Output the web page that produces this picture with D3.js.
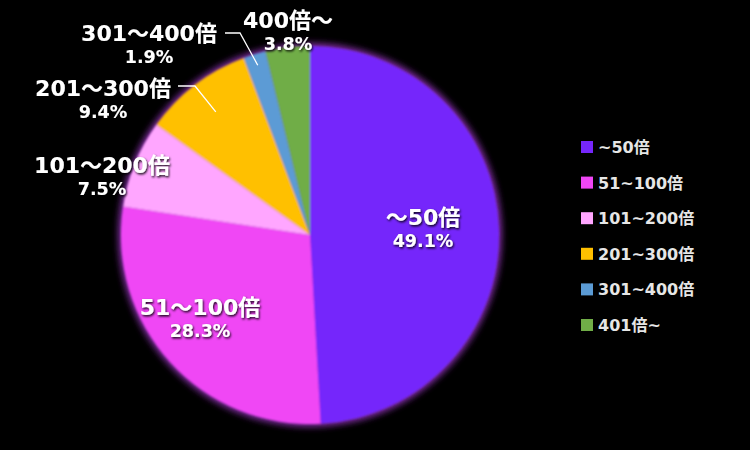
<!DOCTYPE html>
<html><head><meta charset="utf-8">
<script src="https://cdn.jsdelivr.net/npm/d3@7"></script>
<style>html,body{margin:0;padding:0;background:#000;}svg{display:block;}</style>
</head><body>
<svg id="c" width="750" height="450"></svg>
<script>
const categories = ["~50倍","51~100倍","101~200倍","201~300倍","301~400倍","401倍~"];
const labelNames = ["～50倍","51～100倍","101～200倍","201～300倍","301～400倍","400倍～"];
const values = [49.1, 28.3, 7.5, 9.4, 1.9, 3.8];
const colors = ["#7526FB","#F046F5","#FFA6FF","#FFC000","#5B9BD5","#70AD47"];

const svg = d3.select("#c");
svg.append("rect").attr("width",750).attr("height",450).attr("fill","#000");
const defs = svg.append("defs");
const glow = defs.append("filter").attr("id","glow").attr("x","-20%").attr("y","-20%").attr("width","140%").attr("height","140%");
glow.append("feGaussianBlur").attr("stdDeviation",3);
const soft = defs.append("filter").attr("id","soft");
soft.append("feGaussianBlur").attr("stdDeviation",0.8);
const shadow = defs.append("filter").attr("id","ts").attr("x","-20%").attr("y","-30%").attr("width","140%").attr("height","160%");
shadow.append("feDropShadow").attr("dx",1).attr("dy",1.5).attr("stdDeviation",1.2).attr("flood-color","#000").attr("flood-opacity",0.9);

const cx = 310, cy = 235, r = 189;
const g = svg.append("g").attr("transform",`translate(${cx},${cy})`);
g.append("circle").attr("r",r+3).attr("fill","#7A2A9A").attr("filter","url(#glow)");

const pie = d3.pie().sort(null).value(d=>d)(values);
const arc = d3.arc().innerRadius(0).outerRadius(r);
const pg = g.append("g").attr("filter","url(#soft)");
pg.selectAll("path").data(pie).join("path")
  .attr("d",arc).attr("fill",(d,i)=>colors[i]);

// label positions (relative to center, baseline of name line)
const labelPos = [[113,-10],[-110,80],[-208,-62],[-207,-139],[-161,-194],[-22,-207]];
const font = "'DejaVu Sans','Noto Sans CJK JP',sans-serif";
pie.forEach((d,i)=>{
  const [x,y] = labelPos[i];
  const t = g.append("g").attr("filter","url(#ts)");
  t.append("text").attr("x",x).attr("y",y).attr("text-anchor","middle")
    .attr("font-family",font).attr("font-weight","bold").attr("font-size",22)
    .attr("fill","#fff").text(labelNames[i]);
  t.append("text").attr("x",x).attr("y",y+22).attr("text-anchor","middle")
    .attr("font-family",font).attr("font-weight","bold").attr("font-size",17.5)
    .attr("fill","#fff").text(values[i].toFixed(1)+"%");
});

// leader lines
const leaders = [
  {i:3, k:0.82, pts:[[-132,-149],[-115,-149]]},
  {i:4, k:0.94, pts:[[-85,-202],[-70,-202]]}
];
leaders.forEach(L=>{
  const d = pie[L.i];
  const a = (d.startAngle+d.endAngle)/2;
  const rr = r*L.k;
  const end = [Math.sin(a)*rr, -Math.cos(a)*rr];
  g.append("path").attr("d",d3.line()([...L.pts,end]))
    .attr("fill","none").attr("stroke","#fff").attr("stroke-width",1.3);
});

// legend
const leg = svg.append("g").attr("transform","translate(581,147)");
categories.forEach((c,i)=>{
  const y = i*35.6;
  leg.append("rect").attr("x",0).attr("y",y-6).attr("width",12).attr("height",12).attr("fill",colors[i]);
  leg.append("text").attr("x",17).attr("y",y+6).attr("font-family",font).attr("font-weight","bold")
    .attr("font-size",16).attr("fill","#e6e6e6").text(c);
});
</script>
</body></html>
